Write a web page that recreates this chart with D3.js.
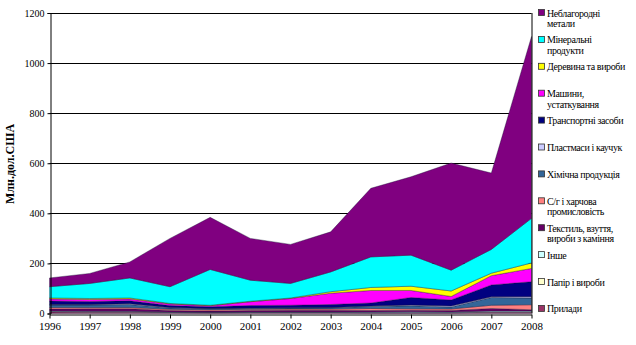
<!DOCTYPE html>
<html><head><meta charset="utf-8">
<script src="https://cdn.jsdelivr.net/npm/d3@7"></script>
<style>body{margin:0;background:#fff}svg{display:block}svg text{font-family:'Liberation Serif','DejaVu Serif','Times New Roman',serif !important}</style>
</head><body>
<svg id="c" width="636" height="345"></svg>
<script>
const years = [1996,1997,1998,1999,2000,2001,2002,2003,2004,2005,2006,2007,2008];
// series in stacking order (bottom → top)
const prylady      = [6,5,5,4,3,4,4,4,3,3,3,5,5];
const papir        = [2,2,2,1,1,1,1,1,1,1,1,2,2];
const inshe        = [2,2,2,1,1,1,1,1,2,3,2,3,3];
const tekstyl      = [8,10,10,6,5,6,7,7,6,6,6,10,5];
const sg           = [6,5,5,5,5,5,5,5,8,6,6,13,20];
const khimichna    = [10,10,12,5,4,4,4,5,8,12,8,31,27];
const plastmasy    = [2,2,3,2,1,1,1,1,2,3,4,3,5];
const transport    = [14,12,12,8,7,10,10,12,12,30,24,47,60];
const mashyny      = [8,8,7,6,4,15,27,45,50,28,14,37,53];
const derevyna     = [4,4,4,2,2,2,2,6,12,17,22,10,22];
const mineralni    = [45,60,80,67,143,84,58,79,122,124,83,95,178];
const neblagorodni = [35,40,64,193,208,167,156,160,274,313,428,305,726];

const seriesNames = ["Прилади","Папір і вироби","Інше","Текстиль, взуття, вироби з каміння","С/г і харчова промисловість","Хімічна продукція","Пластмаси і каучук","Транспортні засоби","Машини, устаткування","Деревина та вироби","Мінеральні продукти","Неблагородні метали"];
const legendLines = [["Прилади"],["Папір і вироби"],["Інше"],["Текстиль, взуття,","вироби з каміння"],["С/г і харчова","промисловість"],["Хімічна продукція"],["Пластмаси і каучук"],["Транспортні засоби"],["Машини,","устаткування"],["Деревина та вироби"],["Мінеральні","продукти"],["Неблагородні","метали"]];
const seriesValues = [prylady,papir,inshe,tekstyl,sg,khimichna,plastmasy,transport,mashyny,derevyna,mineralni,neblagorodni];
const colors = ["#993366","#FFFFCC","#CCFFFF","#660066","#FF8080","#336699","#CCCCFF","#000080","#FF00FF","#FFFF00","#00FFFF","#800080"];
const yTicks = [0,200,400,600,800,1000,1200];

const FF = "'Liberation Serif','DejaVu Serif',serif";
const rows = years.map((y,i)=>{const o={year:y};seriesNames.forEach((n,k)=>o[n]=seriesValues[k][i]);return o;});
const svg = d3.select("#c");
const x = d3.scaleLinear().domain([1996,2008]).range([49.5,531.5]);
const y = d3.scaleLinear().domain([0,1200]).range([313.5,13]);

// gridlines
svg.append("g").selectAll("line").data(yTicks.slice(1)).join("line")
  .attr("x1",x(1996)).attr("x2",x(2008)).attr("y1",d=>Math.round(y(d))+0.5).attr("y2",d=>Math.round(y(d))+0.5)
  .attr("stroke","#000").attr("stroke-width",1);

const stack = d3.stack().keys(seriesNames)(rows);
const area = d3.area().x(d=>x(d.data.year)).y0(d=>y(d[0])).y1(d=>y(d[1]));
svg.append("g").selectAll("path").data(stack).join("path")
  .attr("d",area).attr("fill",(d,i)=>colors[i])
  .attr("stroke","#101030").attr("stroke-width",0.6).attr("stroke-opacity",0.6);

// right border
svg.append("line").attr("x1",x(2008)+0.5).attr("x2",x(2008)+0.5).attr("y1",y(1200)).attr("y2",y(0)).attr("stroke","#000");

// axes
const ya = d3.axisLeft(y).tickValues(yTicks).tickFormat(d3.format("d")).tickSize(3).tickPadding(3);
const gy = svg.append("g").attr("transform",`translate(${Math.round(x(1996))+0.5},0)`).call(ya);
gy.attr("font-family",FF);
gy.selectAll("text").attr("font-size","10px").attr("fill","#000").style("font-family",FF);
gy.selectAll("path,line").attr("stroke","#000");
const xa = d3.axisBottom(x).tickValues(years).tickFormat(d3.format("d")).tickSize(4).tickPadding(4).tickSizeOuter(0);
const gx = svg.append("g").attr("transform",`translate(0,${Math.round(y(0))+0.5})`).call(xa);
gx.attr("font-family",FF);
gx.selectAll("text").attr("font-size","11px").attr("fill","#000").style("font-family",FF);
gx.selectAll("path,line").attr("stroke","#000");

// y title
svg.append("text").attr("transform","translate(14,164) rotate(-90)").attr("text-anchor","middle")
  .style("font-family",FF).attr("font-size","12px").attr("font-weight","bold").text("Млн.дол.США");

// legend (top to bottom = reverse stack)
const lg = svg.append("g");
const order = d3.range(seriesNames.length).reverse();
order.forEach((k,j)=>{
  const cy = 13 + j*26.9;
  lg.append("rect").attr("x",538.5).attr("y",cy-3.5).attr("width",6).attr("height",6)
    .attr("fill",colors[k]).attr("stroke","#333").attr("stroke-width",0.8);
  const t = lg.append("text").attr("x",547).attr("y",cy+3.5).attr("font-size","10px").attr("letter-spacing","-0.4px").style("font-family",FF);
  legendLines[k].forEach((ln,li)=>t.append("tspan").attr("x",547).attr("dy",li?10.5:0).text(ln));
});
</script>
</body></html>
